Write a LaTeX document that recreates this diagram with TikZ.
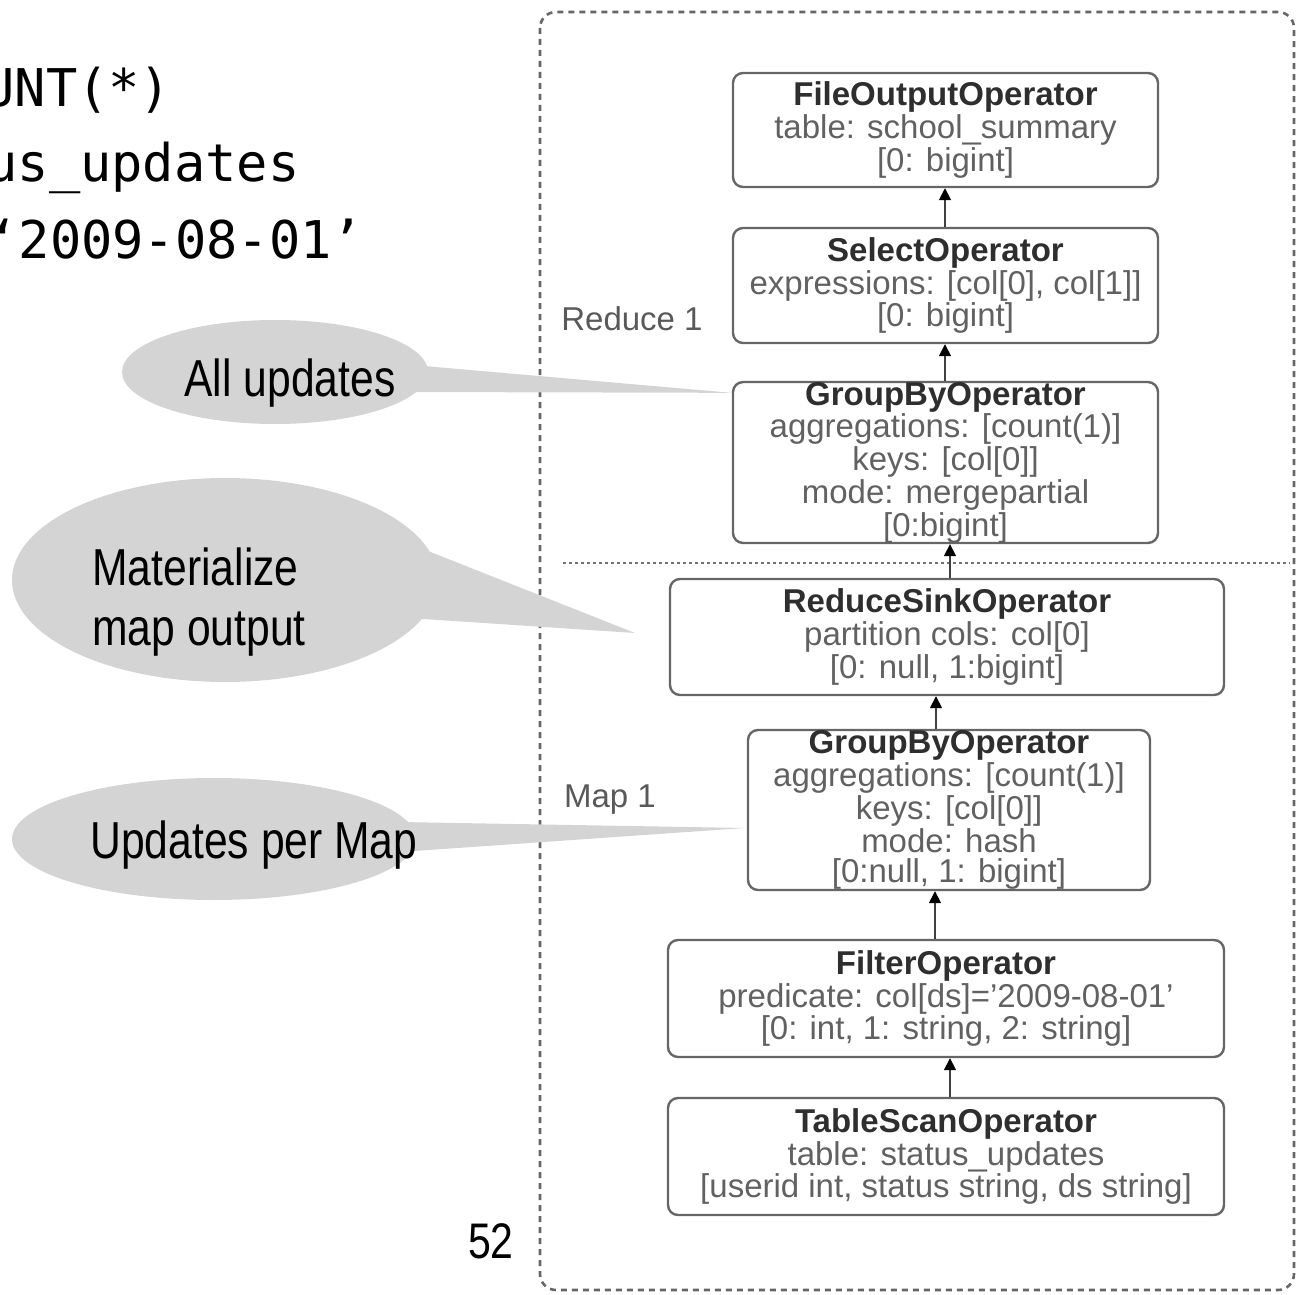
\documentclass[tikz,border=0pt]{standalone}
\usepackage{fontspec}
\setmainfont{Liberation Sans}
\newfontfamily\narrowfont[FakeStretch=0.82]{Liberation Sans}
\newfontfamily\codefont{DejaVu Sans Mono}
\usetikzlibrary{arrows.meta,shapes.geometric,calc}
\definecolor{calloutgray}{HTML}{D4D4D4}
\tikzset{
  opbox/.style={draw=black!60, line width=1.2pt, rounded corners=5pt, align=center, inner sep=0pt,
    font=\fontsize{16.5}{15}\selectfont, text=black!62},
  arr/.style={draw=black!75, line width=0.8pt, -{Triangle[length=6pt,width=6pt,color=black]}},
  callout/.style={ellipse, fill=calloutgray, inner sep=0pt},
  ctext/.style={font=\narrowfont\fontsize{26}{26}\selectfont, inner sep=0pt, text=black},
  codetext/.style={font=\codefont\fontsize{26}{26}\selectfont, inner sep=0pt, anchor=base west},
  lbl/.style={font=\fontsize{16.5}{16.5}\selectfont, text=black!65, inner sep=0pt},
  outerbox/.style={draw=black!60, line width=1.3pt, dash pattern=on 3pt off 2.5pt, rounded corners=8pt},
  sepline/.style={draw=black!55, line width=1.3pt, dash pattern=on 1.5pt off 1.5pt},
}
\newcommand{\optitle}[1]{{\color{black!82}\bfseries #1}}
\begin{document}
\begin{tikzpicture}[x=0.5pt,y=-0.5pt]
\useasboundingbox (0,0) rectangle (1297,1295);
\clip (0,0) rectangle (1297,1295);

% code fragment (cut off at the left edge, as in the slide)
\node[codetext] (c1) at (-17,107) {UNT(*)};
\node[codetext] (c2) at (-14,182) {us\_updates};
\node[codetext] (c3) at (-13,258) {‘2009-08-01’};

% outer dashed frame
\draw[outerbox] (540,12) rectangle (1294,1290);
\draw[sepline] (563,563) -- (1290,563);

% operator boxes
\node[opbox, minimum width=212.5pt, minimum height=57pt] (fo) at (945.5,130)
  {\optitle{FileOutputOperator}\\ table: school\_summary\\{[0: bigint]}};
\node[opbox, minimum width=212.5pt, minimum height=57.5pt] (so) at (945.5,285.5)
  {\optitle{SelectOperator}\\ expressions: [col[0], col[1]]\\{[0: bigint]}};
\node[opbox, minimum width=212.5pt, minimum height=76.5pt] (gbr) at (945.5,462.5)
  {\optitle{GroupByOperator}\\ aggregations: [count(1)]\\ keys: [col[0]]\\ mode: mergepartial\\{[0:bigint]}};
\node[opbox, minimum width=277pt, minimum height=58pt] (rs) at (947,637)
  {\optitle{ReduceSinkOperator}\\ partition cols: col[0]\\{[0: null, 1:bigint]}};
\node[opbox, minimum width=201pt, minimum height=80pt] (gbm) at (949,810)
  {\optitle{GroupByOperator}\\ aggregations: [count(1)]\\ keys: [col[0]]\\ mode: hash\\{[0:null, 1: bigint]}};
\node[opbox, minimum width=278pt, minimum height=58.5pt] (fi) at (946,998.5)
  {\optitle{FilterOperator}\\ predicate: col[ds]='2009-08-01'\\{[0: int, 1: string, 2: string]}};
\node[opbox, minimum width=278pt, minimum height=58.5pt] (ts) at (946,1156.5)
  {\optitle{TableScanOperator}\\ table: status\_updates\\{[userid int, status string, ds string]}};

% stage labels
\node[lbl] (red1) at (632,319) {Reduce 1};
\node[lbl] (map1) at (610,800) {Map 1};

% arrows
\draw[arr] (so.north -| 945,0) -- (fo.south -| 945,0);
\draw[arr] (gbr.north -| 945,0) -- (so.south -| 945,0);
\draw[arr] (rs.north -| 950,0) -- (gbr.south -| 950,0);
\draw[arr] (gbm.north -| 936,0) -- (rs.south -| 936,0);
\draw[arr] (fi.north -| 935,0) -- (gbm.south -| 935,0);
\draw[arr] (ts.north -| 950,0) -- (fi.south -| 950,0);

% callouts
\coordinate (tipA) at ($(gbr.north west)+(0,12)$);
\coordinate (tipM) at (635,633);
\coordinate (tipU) at ($(gbm.west)+(-2,18)$);
\fill[calloutgray] (424,366) -- (tipA) -- (410,392) -- cycle;
\fill[calloutgray] (423,549) -- (tipM) -- (408,618) -- cycle;
\fill[calloutgray] (400,822) -- (tipU) -- (400,852) -- cycle;
\node[callout, minimum width=153pt, minimum height=52pt] (cA) at (275,372) {};
\node[callout, minimum width=213pt, minimum height=102pt] (cM) at (225,580) {};
\node[callout, minimum width=202pt, minimum height=61pt] (cU) at (214,839) {};
\node[ctext, anchor=base] (tA) at (290,396) {All updates};
\node[ctext, anchor=base west] (tM1) at (92,585) {Materialize};
\node[ctext, anchor=base west] (tM2) at (92,645) {map output};
\node[ctext, anchor=base west] (tU) at (90,858) {Updates per Map};

% page number
\node[ctext, anchor=base, font=\narrowfont\fontsize{25}{25}\selectfont] (pg) at (491,1258) {52};
\end{tikzpicture}
\end{document}
